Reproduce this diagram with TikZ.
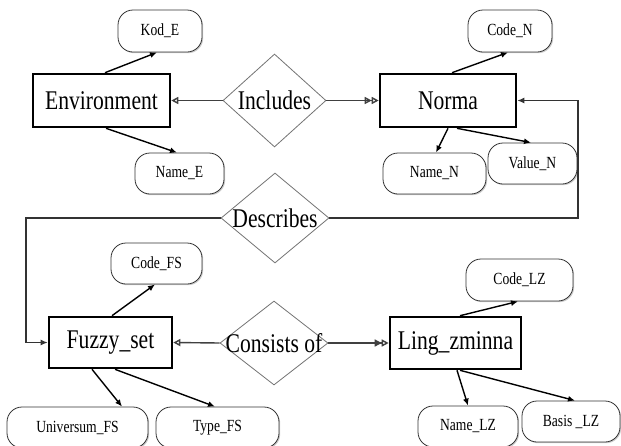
\documentclass[tikz,border=0pt]{standalone}
\usepackage{fontspec}
\setmainfont{Liberation Serif}[FakeStretch=0.8]
\usetikzlibrary{arrows.meta,shapes.geometric,shadows}

\tikzset{
  entity/.style={draw=black, line width=2.6pt, fill=white, inner sep=0pt,
    font=\fontsize{27}{30}\selectfont},
  attrib/.style={draw=black!80, line width=0.8pt, fill=white, inner sep=0pt,
    rounded corners=15pt, font=\fontsize{17}{19}\selectfont,
    drop shadow={shadow xshift=1.2pt, shadow yshift=-1.2pt, fill=black!40, opacity=0.5}},
  relation/.style={draw=black!55, line width=0.8pt, shape=diamond, inner sep=0pt,
    fill=white},
  reltext/.style={font=\fontsize{27}{30}\selectfont, inner sep=0pt},
  tolink/.style={line width=1.4pt, -{Latex[length=7pt,width=6pt]}},
  onelink/.style={draw=black!75, line width=1.4pt, -{Triangle[open,length=7pt,width=7pt]}},
  manylink/.style={draw=black!75, line width=1.4pt,
    -{Triangle[open,length=7pt,width=7pt] Triangle[open,length=7pt,width=7pt]}},
  loop/.style={draw=black!80, line width=1.3pt, -{Latex[length=7pt,width=6pt]}}
}

\begin{document}
\begin{tikzpicture}[x=1pt,y=-1pt]
\useasboundingbox (0,0) rectangle (621,445);

% entities
\node[entity, minimum width=137pt, minimum height=53pt] (env)   at (101.5,100.5) {Environment};
\node[entity, minimum width=136pt, minimum height=53pt] (norma) at (448,100.5) {Norma};
\node[entity, minimum width=123pt, minimum height=51pt] (fuzzy) at (110.5,342.5) {Fuzzy\_set};
\node[entity, minimum width=131pt, minimum height=52pt] (ling)  at (455.5,343) {Ling\_zminna};

% relationships
\node[relation, minimum width=103pt, minimum height=93pt] (inc)  at (274.5,100.5) {};
\node[reltext] (inctext) at (inc) {Includes};
\node[relation, minimum width=108pt, minimum height=90pt] (desc) at (275,218) {};
\node[reltext] (desctext) at (desc) {Describes};
\node[relation, minimum width=108pt, minimum height=84pt] (cons) at (274,343) {};
\node[reltext] (constext) at (cons) {Consists of};

% attributes
\node[attrib, minimum width=84pt,  minimum height=42pt] (kod)    at (160,31)      {Kod\_E};
\node[attrib, minimum width=89pt,  minimum height=41pt] (namee)  at (179.5,173.5) {Name\_E};
\node[attrib, minimum width=84pt,  minimum height=42pt] (coden)  at (510,31)      {Code\_N};
\node[attrib, minimum width=103pt, minimum height=41pt] (namen)  at (434.5,173.5) {Name\_N};
\node[attrib, minimum width=89pt,  minimum height=41pt] (valuen) at (532.5,163.5) {Value\_N};
\node[attrib, minimum width=91pt,  minimum height=41pt] (codefs) at (156.5,263.5) {Code\_FS};
\node[attrib, minimum width=141pt, minimum height=41pt] (univ)   at (77.5,427.5)  {Universum\_FS};
\node[attrib, minimum width=123pt, minimum height=41pt] (typefs) at (217.5,427.5) {Type\_FS};
\node[attrib, minimum width=107pt, minimum height=42pt] (codelz) at (519.5,280)   {Code\_LZ};
\node[attrib, minimum width=100pt, minimum height=41pt] (namelz) at (468,426.5)   {Name\_LZ};
\node[attrib, minimum width=98pt,  minimum height=41pt] (basis)  at (571,421.5)   {Basis \_LZ};

% entity -> attribute links
\draw[tolink] ([xshift=3.5pt]env.north)   -- ([xshift=-3pt]kod.south);
\draw[tolink] ([xshift=4.5pt]env.south)   -- ([xshift=-2.5pt]namee.north);
\draw[tolink] ([xshift=4pt]norma.north)   -- ([xshift=-2pt]coden.south);
\draw[tolink] (norma.south)               -- ([xshift=1.5pt]namen.north);
\draw[tolink] ([xshift=9pt]norma.south)   -- ([xshift=-1.5pt]valuen.north);
\draw[tolink] ([xshift=1.5pt]fuzzy.north) -- ([xshift=-1.5pt]codefs.south);
\draw[tolink] ([xshift=-18.5pt]fuzzy.south) -- ([xshift=44.5pt]univ.north);
\draw[tolink] ([xshift=4.5pt]fuzzy.south) -- ([xshift=-2.5pt]typefs.north);
\draw[tolink] ([xshift=4.5pt]ling.north)  -- ([xshift=-1.5pt]codelz.south);
\draw[tolink] ([xshift=1.5pt]ling.south)  -- (namelz.north);
\draw[tolink] ([xshift=4.5pt]ling.south)  -- ([xshift=4pt]basis.north);

% relationship links
\draw[onelink]  (inc.west)  -- (env.east);
\draw[manylink] (inc.east)  -- (norma.west);
\draw[onelink]  (cons.west) -- (fuzzy.east);
\draw[manylink] (cons.east) -- (ling.west);

% Describes: Norma <-> Fuzzy_set
\coordinate (rightturn) at (578,218);
\coordinate (leftturn)  at (26,218);
\draw[loop] (desc.east) -- (rightturn) |- (norma.east);
\draw[loop] (desc.west) -- (leftturn)  |- (fuzzy.west);
\end{tikzpicture}
\end{document}
